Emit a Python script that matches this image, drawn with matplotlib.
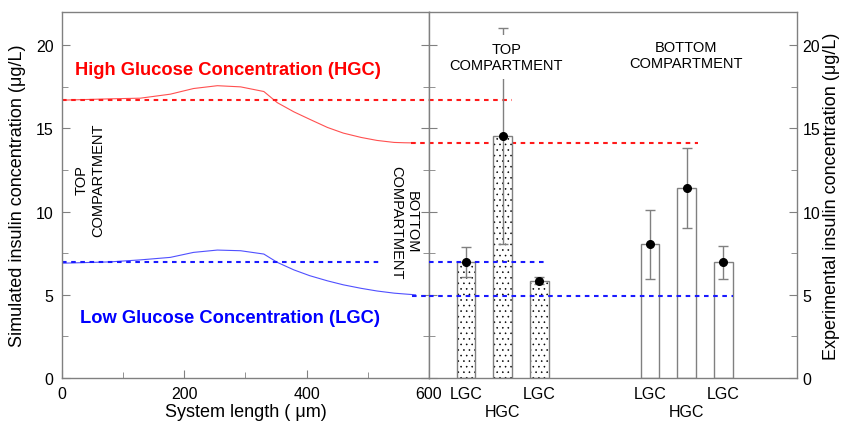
import matplotlib
matplotlib.use("Agg")
import matplotlib.pyplot as plt
from matplotlib.ticker import MultipleLocator

plt.rcParams['font.family'] = ['Liberation Sans', 'DejaVu Sans']
plt.rcParams['hatch.linewidth'] = 0.4
plt.rcParams['hatch.color'] = 'black'

# Simulated profiles (system length in um, concentration in ug/L)
sim_x = [0, 79, 128, 177, 215, 254, 292, 330, 352, 379, 405, 434, 460, 489, 515, 543, 560, 578]
hgc_sim = [16.70, 16.78, 16.82, 17.06, 17.40, 17.57, 17.50, 17.22, 16.55, 16.00,
           15.55, 15.06, 14.72, 14.46, 14.28, 14.16, 14.14, 14.13]
lgc_sim = [6.90, 6.98, 7.10, 7.25, 7.55, 7.69, 7.65, 7.45, 6.95, 6.50,
           6.15, 5.84, 5.60, 5.39, 5.23, 5.10, 5.05, 5.00]

# Reference (dotted) levels
hgc_top_level = 16.7
hgc_bottom_level = 14.1
lgc_top_level = 6.95
lgc_bottom_level = 4.95

# Experimental bars
bar_pos = [1, 2, 3, 6, 7, 8]
bar_vals = [7.0, 14.55, 5.85, 8.05, 11.4, 6.95]
bar_err = [0.9, 6.5, 0.22, 2.07, 2.4, 1.0]
bar_hatched = [True, True, True, False, False, False]
bar_labels = ['LGC', '\nHGC', 'LGC', 'LGC', '\nHGC', 'LGC']

x_ticks = [0, 200, 400, 600]
y_ticks = [0, 5, 10, 15, 20]

fig = plt.figure(figsize=(8.45, 4.27), dpi=100)
L, M, R = 62 / 845, 429 / 845, 797 / 845
B, T = 1 - 379 / 427, 1 - 13 / 427
ax1 = fig.add_axes([L, B, M - L, T - B])
ax2 = fig.add_axes([M, B, R - M, T - B])

GRAY = '#808080'
RED = '#ff1a1a'
BLUE = '#1a1aff'
dot = (0, (2.2, 2.2))

for ax in (ax1, ax2):
    ax.set_ylim(0, 22)
    for s in ax.spines.values():
        s.set_color(GRAY)
        s.set_linewidth(1.0)
    ax.set_yticks(y_ticks)
    ax.yaxis.set_minor_locator(MultipleLocator(2.5))
    ax.tick_params(axis='both', which='both', direction='in', color=GRAY,
                   left=True, right=True, labelsize=11.5, pad=6)
    ax.tick_params(which='major', length=6)
    ax.tick_params(which='minor', length=4)

# Left panel
ax1.set_xlim(0, 600)
ax1.set_xticks(x_ticks)
ax1.xaxis.set_minor_locator(MultipleLocator(100))
ax1.tick_params(axis='y', labelleft=True, labelright=False)
ax1.plot(sim_x, hgc_sim, color='#ff5050', lw=0.8)
ax1.plot(sim_x, lgc_sim, color='#5050ff', lw=0.8)
ax1.plot([0, 600], [hgc_top_level] * 2, color=RED, ls=dot, lw=1.5)
ax1.plot([570, 600], [hgc_bottom_level] * 2, color=RED, ls=dot, lw=1.5)
ax1.plot([0, 521], [lgc_top_level] * 2, color=BLUE, ls=dot, lw=1.5)
ax1.plot([573, 600], [lgc_bottom_level] * 2, color=BLUE, ls=dot, lw=1.5)
ax1.set_xlabel('System length ( \u03bcm)', fontsize=13, labelpad=1)
ax1.set_ylabel('Simulated insulin concentration (\u03bcg/L)', fontsize=13, labelpad=7)
ax1.text(21, 18.56, 'High Glucose Concentration (HGC)', color='#ff0000',
         fontsize=13.2, fontweight='bold', va='center', ha='left')
ax1.text(30, 3.66, 'Low Glucose Concentration (LGC)', color='#0000ff',
         fontsize=13.2, fontweight='bold', va='center', ha='left')
ax1.text(46, 11.95, 'TOP\nCOMPARTMENT', rotation=90, fontsize=10.5,
         ha='center', va='center', multialignment='center')
ax1.text(559, 9.4, 'BOTTOM\nCOMPARTMENT', rotation=-90, fontsize=10.5,
         ha='center', va='center', multialignment='center')

# Right panel
ax2.set_xlim(0, 10)
ax2.set_xticks(bar_pos)
ax2.set_xticklabels(bar_labels)
ax2.tick_params(axis='x', which='both', length=0, bottom=False, top=False)
ax2.tick_params(axis='y', labelleft=False, labelright=True, pad=4)
ax2.yaxis.set_label_position('right')
ax2.set_ylabel('Experimental insulin concentration (\u03bcg/L)', fontsize=13, labelpad=2)

ax2.plot([0, 2.26], [hgc_top_level] * 2, color=RED, ls=dot, lw=1.5, zorder=1)
ax2.plot([0, 7.3], [hgc_bottom_level] * 2, color=RED, ls=dot, lw=1.5, zorder=1)
ax2.plot([0, 3.23], [lgc_top_level] * 2, color=BLUE, ls=dot, lw=1.5, zorder=3)
ax2.plot([0, 8.27], [lgc_bottom_level] * 2, color=BLUE, ls=dot, lw=1.5, zorder=3)

for p, v, h in zip(bar_pos, bar_vals, bar_hatched):
    ax2.bar(p, v, width=0.5, color='white', edgecolor='none', zorder=2)
    if h:
        ax2.bar(p, v, width=0.5, color='none', edgecolor='black',
                linewidth=0, hatch='...', zorder=2)
    ax2.bar(p, v, width=0.5, color='none', edgecolor=GRAY, linewidth=1.0, zorder=2)
ax2.errorbar(bar_pos, bar_vals, yerr=bar_err, fmt='o', color='black',
             markersize=5.5, ecolor=GRAY, elinewidth=1.0, capsize=3.5,
             capthick=1.0, zorder=4)

ax2.text(2.1, 19.3, 'TOP\nCOMPARTMENT', fontsize=10.5, ha='center', va='center',
         multialignment='center', zorder=6,
         bbox=dict(facecolor='white', edgecolor='none', boxstyle='square,pad=0.5'))
ax2.text(6.98, 19.4, 'BOTTOM\nCOMPARTMENT', fontsize=10.5, ha='center', va='center',
         multialignment='center', zorder=6)

fig.savefig('out.png', dpi=100)
